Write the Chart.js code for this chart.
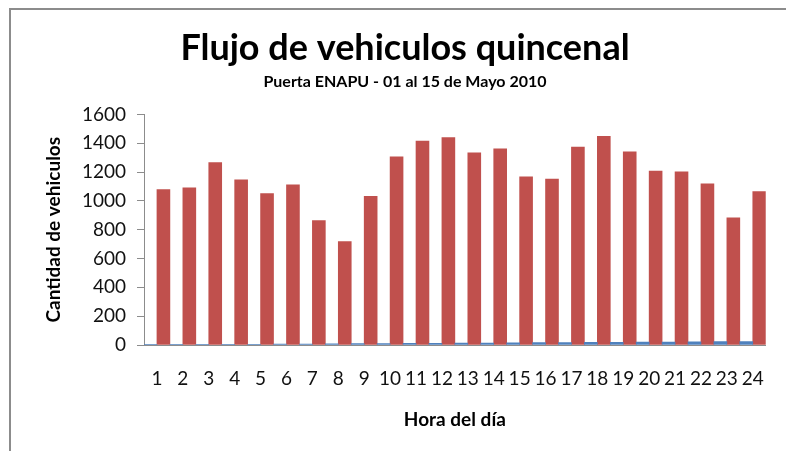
<!DOCTYPE html>
<html>
<head>
<meta charset="utf-8">
<title>Flujo de vehiculos quincenal</title>
<script src="https://cdn.jsdelivr.net/npm/chart.js@4.4.1/dist/chart.umd.min.js"></script>
<style>
    html, body { margin: 0; padding: 0; background: #fff; overflow: hidden; }
    #marco {
        position: absolute; left: 9px; top: 8px; width: 800px; height: 460px;
        border-top: 2px solid #8c8c8c; border-left: 2px solid #8c8c8c;
    }
    #wrap { position: absolute; left: 0; top: 0; width: 786px; height: 451px; }
</style>
</head>
<body>
<div id="marco"></div>
<div id="wrap"><canvas id="myFlujoChart" width="786" height="451"></canvas></div>
<script>
const horas = ['1', '2', '3', '4', '5', '6', '7', '8', '9', '10', '11', '12',
    '13', '14', '15', '16', '17', '18', '19', '20', '21', '22', '23', '24'];
// serie azul (columna de horas)
const serieHora = [1, 2, 3, 4, 5, 6, 7, 8, 9, 10, 11, 12,
    13, 14, 15, 16, 17, 18, 19, 20, 21, 22, 23, 24];
// serie roja: cantidad de vehiculos por hora
const vehiculos = [1078, 1090, 1266, 1146, 1050, 1111, 863, 717, 1032, 1306, 1415, 1440,
    1333, 1361, 1166, 1152, 1373, 1447, 1340, 1206, 1201, 1118, 883, 1064];
const ticksY = [0, 200, 400, 600, 800, 1000, 1200, 1400, 1600];

function loadChartFlujo() {
    new Chart(document.getElementById('myFlujoChart'), {
        type: 'bar',
        data: {
            labels: horas,
            datasets: [{
                label: 'Hora',
                data: serieHora,
                backgroundColor: '#4F81BD',
                borderWidth: 0
            }, {
                label: 'Vehiculos',
                data: vehiculos,
                backgroundColor: '#C0504D',
                borderWidth: 0
            }]
        },
        options: {
            responsive: false,
            animation: false,
            categoryPercentage: 1.0,
            barPercentage: 1.0,
            layout: { padding: { left: 34, right: 10, top: 0, bottom: 0 } },
            plugins: {
                legend: { display: false },
                tooltip: { enabled: false },
                title: {
                    display: true,
                    text: 'Flujo de vehiculos quincenal',
                    color: '#000',
                    font: { family: 'Lato', size: 36, weight: 'bold' },
                    padding: { top: 27, bottom: 1 }
                },
                subtitle: {
                    display: true,
                    text: 'Puerta ENAPU - 01 al 15 de Mayo 2010',
                    color: '#000',
                    font: { family: 'Lato', size: 16, weight: 'bold' },
                    padding: { top: 1, bottom: 23 }
                }
            },
            scales: {
                x: {
                    grid: { display: false, drawTicks: false },
                    border: { display: true, color: '#8c8c8c', width: 1 },
                    ticks: {
                        color: '#111',
                        font: { family: 'Lato', size: 19 },
                        padding: 22,
                        maxRotation: 0,
                        autoSkip: false
                    },
                    title: {
                        display: true,
                        text: 'Hora del día',
                        color: '#000',
                        font: { family: 'Lato', size: 19, weight: 'bold' },
                        padding: { top: 0, bottom: 20 }
                    },
                    afterFit: function (scale) { scale.height = 106; }
                },
                y: {
                    min: 0,
                    max: 1600,
                    grid: { drawOnChartArea: false, tickLength: 7, color: '#8c8c8c' },
                    border: { display: true, color: '#8c8c8c', width: 1 },
                    afterBuildTicks: function (scale) {
                        scale.ticks = ticksY.map(v => ({ value: v }));
                    },
                    ticks: {
                        color: '#111',
                        font: { family: 'Lato', size: 19 },
                        padding: 11,
                        callback: function (value) { return String(value); }
                    },
                    title: {
                        display: true,
                        text: 'Cantidad de vehiculos',
                        color: '#000',
                        font: { family: 'Lato', size: 19, weight: 'bold' },
                        padding: { top: 8, bottom: 0 }
                    },
                    afterFit: function (scale) { scale.width = 110; }
                }
            }
        }
    });
}

loadChartFlujo();
</script>
</body>
</html>
